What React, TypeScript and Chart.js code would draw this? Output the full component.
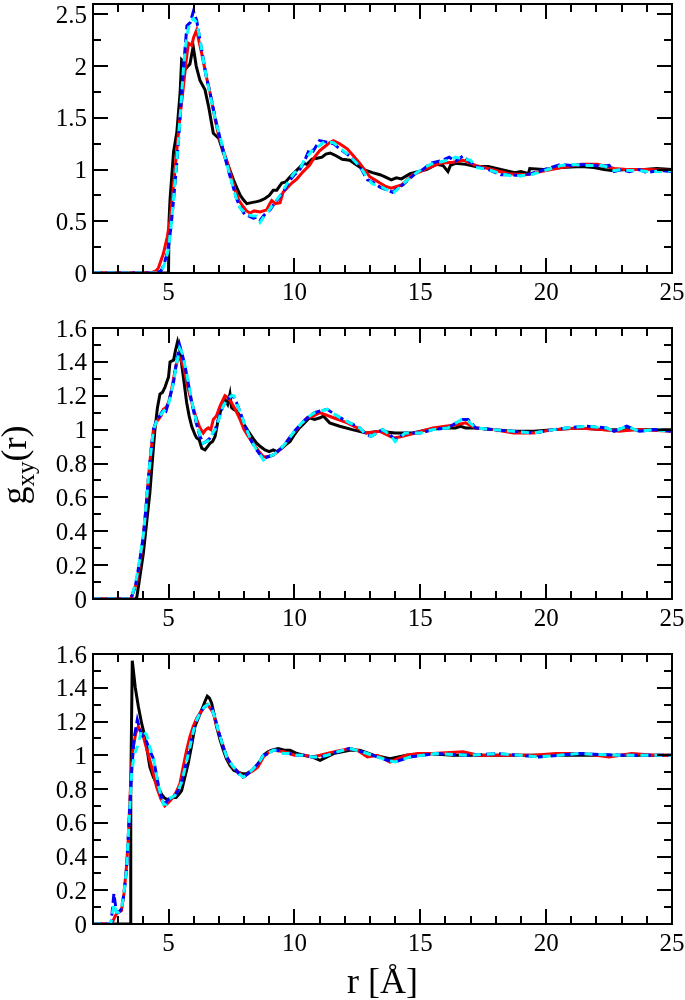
import React, { useEffect, useRef, useState } from "react";
import { Chart, registerables } from "chart.js";

Chart.register(...registerables);

// ---------- axis definitions ----------
const xMajorTicks = [5, 10, 15, 20, 25];
const xMinorTicks = [3, 4, 6, 7, 8, 9, 11, 12, 13, 14, 16, 17, 18, 19, 21, 22, 23, 24];
const p1YTicks = [0, 0.5, 1, 1.5, 2, 2.5];
const p1YMinor = [0.25, 0.75, 1.25, 1.75, 2.25];
const p23YTicks = [0, 0.2, 0.4, 0.6, 0.8, 1, 1.2, 1.4, 1.6];
const p23YMinor = [0.1, 0.3, 0.5, 0.7, 0.9, 1.1, 1.3, 1.5];
const xLabel = "r [Å]";

// ---------- panel 1 ----------
const p1BlackR = [2, 4.95, 5.0, 5.02, 5.06, 5.2, 5.33, 5.46, 5.52, 5.56, 5.7, 5.85, 5.98, 6.1, 6.25, 6.45, 6.6, 6.78, 7.0, 7.18, 7.4, 7.58, 7.72, 7.85, 8.0, 8.11, 8.3, 8.5, 8.65, 8.83, 9.0, 9.16, 9.3, 9.5, 9.65, 9.83, 10.0, 10.2, 10.36, 10.5, 10.7, 10.9, 11.1, 11.25, 11.42, 11.6, 11.9, 12.2, 12.5, 12.76, 13.1, 13.4, 13.6, 13.85, 14.05, 14.25, 14.6, 14.9, 15.25, 15.64, 15.9, 16.1, 16.2, 16.4, 16.8, 17.2, 17.7, 18.2, 18.76, 19.0, 19.3, 19.35, 19.9, 20.6, 21.4, 21.9, 22.3, 22.6, 23.2, 23.9, 24.4, 25];
const p1BlackG = [0, 0, 0, 0.5, 0.71, 1.17, 1.36, 1.74, 2.06, 2.05, 1.98, 2.02, 2.19, 2.0, 1.86, 1.77, 1.6, 1.35, 1.3, 1.16, 1.02, 0.9, 0.82, 0.75, 0.7, 0.67, 0.68, 0.69, 0.7, 0.72, 0.75, 0.8, 0.8, 0.87, 0.88, 0.93, 0.97, 1.02, 1.06, 1.05, 1.1, 1.11, 1.12, 1.15, 1.16, 1.14, 1.1, 1.09, 1.04, 1.0, 0.97, 0.95, 0.93, 0.9, 0.92, 0.91, 0.96, 0.98, 1.0, 1.05, 1.04, 0.98, 1.04, 1.06, 1.05, 1.03, 1.03, 1.0, 0.97, 0.98, 0.96, 1.01, 1.0, 1.02, 1.03, 1.02, 1.0, 0.99, 1.0, 1.0, 1.01, 1.0];

const p1RedR = [2, 4.3, 4.5, 4.6, 4.8, 4.95, 5.06, 5.2, 5.33, 5.45, 5.59, 5.7, 5.79, 5.92, 6.0, 6.12, 6.2, 6.32, 6.5, 6.65, 6.8, 6.97, 7.15, 7.31, 7.5, 7.64, 7.8, 7.97, 8.1, 8.24, 8.4, 8.64, 8.9, 9.0, 9.1, 9.25, 9.43, 9.55, 9.7, 9.9, 10.1, 10.35, 10.6, 10.8, 11.0, 11.2, 11.4, 11.55, 11.8, 12.1, 12.35, 12.6, 13.0, 13.4, 13.6, 13.85, 14.25, 14.7, 15.0, 15.25, 15.77, 16.3, 16.7, 17.2, 17.85, 18.5, 19.2, 19.8, 20.6, 21.4, 22.05, 22.7, 23.2, 24.0, 25];
const p1RedG = [0, 0, 0.02, 0.05, 0.19, 0.35, 0.51, 0.85, 1.19, 1.5, 1.8, 2.05, 2.22, 2.2, 2.28, 2.35, 2.25, 2.12, 1.9, 1.74, 1.55, 1.35, 1.2, 1.09, 0.93, 0.8, 0.7, 0.64, 0.6, 0.58, 0.6, 0.59, 0.61, 0.66, 0.7, 0.67, 0.68, 0.78, 0.82, 0.87, 0.91, 0.98, 1.04, 1.12, 1.18, 1.22, 1.26, 1.28, 1.25, 1.2, 1.13, 1.06, 0.93, 0.87, 0.84, 0.82, 0.85, 0.95, 0.98, 1.01, 1.06, 1.07, 1.09, 1.04, 1.0, 0.96, 0.95, 0.98, 1.02, 1.05, 1.05, 1.01, 1.0, 1.0, 0.99];

const p1BlueR = [2, 4.5, 4.7, 4.8, 4.9, 5.0, 5.1, 5.2, 5.3, 5.4, 5.5, 5.6, 5.73, 5.86, 5.99, 6.12, 6.25, 6.38, 6.5, 6.65, 6.9, 7.05, 7.24, 7.4, 7.57, 7.7, 7.84, 8.04, 8.2, 8.37, 8.5, 8.64, 8.8, 9.03, 9.2, 9.43, 9.6, 9.83, 10.0, 10.2, 10.4, 10.6, 10.75, 11.0, 11.2, 11.55, 11.8, 12.2, 12.6, 12.9, 13.1, 13.4, 13.7, 13.9, 14.1, 14.3, 14.8, 15.1, 15.4, 15.9, 16.15, 16.4, 16.7, 17.0, 17.2, 17.7, 18.2, 18.6, 19.0, 19.4, 19.8, 20.2, 20.6, 21.0, 21.6, 22.2, 22.5, 22.7, 23.0, 23.3, 23.7, 24.0, 24.5, 25];
const p1BlueG = [0, 0, 0.02, 0.07, 0.15, 0.26, 0.45, 0.71, 0.98, 1.29, 1.65, 2.0, 2.39, 2.42, 2.53, 2.44, 2.25, 2.07, 1.9, 1.74, 1.45, 1.3, 1.12, 0.97, 0.83, 0.72, 0.64, 0.56, 0.55, 0.53, 0.54, 0.51, 0.56, 0.61, 0.67, 0.74, 0.8, 0.9, 0.95, 0.99, 1.08, 1.2, 1.18, 1.28, 1.27, 1.25, 1.2, 1.13, 1.03, 0.9, 0.88, 0.83, 0.8, 0.78, 0.82, 0.85, 0.96, 1.0, 1.06, 1.09, 1.12, 1.08, 1.13, 1.07, 1.03, 1.0, 0.95, 0.95, 0.94, 0.96, 0.99, 1.02, 1.05, 1.04, 1.05, 1.03, 1.04, 0.98, 1.0, 0.98, 1.0, 0.97, 0.99, 0.98];

const p1CyanR = [2, 4.5, 4.7, 4.8, 4.9, 5.0, 5.1, 5.2, 5.3, 5.4, 5.5, 5.6, 5.73, 5.86, 5.99, 6.12, 6.25, 6.38, 6.5, 6.65, 6.9, 7.05, 7.24, 7.4, 7.57, 7.7, 7.84, 8.04, 8.2, 8.37, 8.5, 8.64, 8.8, 9.03, 9.2, 9.43, 9.6, 9.83, 10.0, 10.2, 10.4, 10.6, 10.75, 11.0, 11.2, 11.55, 11.8, 12.2, 12.6, 12.9, 13.1, 13.4, 13.7, 13.9, 14.1, 14.3, 14.8, 15.1, 15.4, 15.9, 16.15, 16.4, 16.7, 17.0, 17.2, 17.7, 18.2, 18.6, 19.0, 19.4, 19.8, 20.2, 20.6, 21.0, 21.6, 22.2, 22.5, 22.7, 23.0, 23.3, 23.7, 24.0, 24.5, 25];
const p1CyanG = [0, 0, 0.02, 0.06, 0.13, 0.24, 0.45, 0.72, 1.0, 1.3, 1.65, 2.0, 2.3, 2.43, 2.46, 2.42, 2.26, 2.06, 1.9, 1.72, 1.44, 1.32, 1.12, 0.98, 0.82, 0.72, 0.63, 0.58, 0.56, 0.55, 0.55, 0.49, 0.55, 0.62, 0.68, 0.75, 0.82, 0.91, 0.97, 0.99, 1.1, 1.15, 1.2, 1.23, 1.27, 1.26, 1.21, 1.13, 1.03, 0.92, 0.86, 0.84, 0.8, 0.77, 0.81, 0.86, 0.96, 1.01, 1.05, 1.08, 1.09, 1.12, 1.1, 1.09, 1.02, 1.0, 0.96, 0.94, 0.94, 0.95, 0.98, 1.01, 1.04, 1.05, 1.04, 1.04, 1.02, 0.99, 1.0, 0.99, 0.99, 0.98, 0.98, 0.99];

// ---------- panel 2 ----------
const p2BlackR = [2, 3.7, 3.74, 3.85, 4.0, 4.13, 4.26, 4.36, 4.46, 4.56, 4.66, 4.76, 4.86, 4.95, 5.0, 5.06, 5.2, 5.28, 5.36, 5.45, 5.5, 5.6, 5.72, 5.82, 5.92, 6.05, 6.12, 6.22, 6.32, 6.45, 6.55, 6.65, 6.75, 6.85, 6.95, 7.05, 7.15, 7.24, 7.35, 7.44, 7.5, 7.58, 7.7, 7.84, 8.0, 8.17, 8.35, 8.5, 8.65, 8.83, 9.0, 9.16, 9.3, 9.5, 9.65, 9.83, 10.0, 10.2, 10.4, 10.6, 10.8, 11.02, 11.15, 11.4, 11.8, 12.3, 12.85, 13.4, 14.0, 14.7, 15.3, 15.97, 16.4, 16.6, 16.8, 17.2, 17.9, 18.7, 19.5, 20.3, 21.3, 22.4, 23.4, 24.2, 25];
const p2BlackG = [0, 0, 0.01, 0.12, 0.27, 0.45, 0.63, 0.82, 1.0, 1.13, 1.21, 1.22, 1.25, 1.29, 1.31, 1.4, 1.41, 1.47, 1.52, 1.47, 1.41, 1.3, 1.16, 1.08, 1.02, 0.97, 0.95, 0.94, 0.89, 0.88, 0.9, 0.92, 0.93, 0.96, 1.04, 1.1, 1.15, 1.18, 1.15, 1.21, 1.13, 1.12, 1.11, 1.08, 1.03, 0.99, 0.95, 0.92, 0.9, 0.88, 0.87, 0.88, 0.87, 0.89, 0.91, 0.93, 0.97, 1.01, 1.04, 1.07, 1.06, 1.07, 1.08, 1.04, 1.02, 1.0, 0.98, 0.99, 0.98, 0.98, 1.0, 1.01, 1.01, 1.02, 1.01, 1.01, 1.0, 0.99, 0.99, 1.0, 1.01, 1.0, 1.0, 1.0, 1.0];

const p2RedR = [2, 3.5, 3.55, 3.74, 3.87, 4.0, 4.1, 4.2, 4.3, 4.4, 4.5, 4.6, 4.7, 4.8, 4.9, 5.0, 5.1, 5.2, 5.3, 5.4, 5.5, 5.6, 5.72, 5.85, 6.0, 6.12, 6.25, 6.38, 6.48, 6.58, 6.68, 6.78, 6.9, 7.05, 7.24, 7.35, 7.5, 7.65, 7.84, 8.0, 8.17, 8.35, 8.5, 8.65, 8.77, 8.95, 9.16, 9.35, 9.56, 9.75, 9.96, 10.2, 10.5, 10.75, 11.0, 11.2, 11.55, 12.1, 12.5, 12.85, 13.4, 13.95, 14.3, 14.8, 15.5, 16.0, 16.5, 16.8, 17.2, 17.9, 18.7, 19.5, 20.3, 21.3, 22.2, 22.9, 23.6, 25];
const p2RedG = [0, 0, 0.02, 0.1, 0.22, 0.37, 0.53, 0.71, 0.87, 1.0, 1.04, 1.06, 1.08, 1.12, 1.13, 1.16, 1.22, 1.3, 1.38, 1.43, 1.41, 1.37, 1.28, 1.2, 1.12, 1.06, 1.01, 0.98, 1.0, 1.01, 1.0, 1.06, 1.08, 1.14, 1.2, 1.19, 1.16, 1.12, 1.06, 1.0, 0.96, 0.92, 0.89, 0.86, 0.84, 0.84, 0.85, 0.87, 0.9, 0.94, 0.98, 1.02, 1.07, 1.08, 1.1, 1.09, 1.07, 1.04, 1.01, 0.98, 0.99, 0.95, 0.96, 0.98, 1.01, 1.02, 1.03, 1.04, 1.01, 1.0, 0.98, 0.98, 1.0, 1.01, 1.0, 0.99, 1.0, 0.99];

const p2BlueR = [2, 3.45, 3.55, 3.7, 3.85, 4.0, 4.1, 4.2, 4.3, 4.4, 4.53, 4.65, 4.8, 4.9, 5.0, 5.1, 5.2, 5.3, 5.44, 5.55, 5.65, 5.8, 5.95, 6.1, 6.25, 6.38, 6.5, 6.65, 6.75, 6.85, 7.0, 7.17, 7.35, 7.5, 7.6, 7.7, 7.9, 8.1, 8.3, 8.5, 8.65, 8.77, 8.95, 9.16, 9.4, 9.6, 9.8, 10.0, 10.3, 10.6, 10.8, 11.02, 11.3, 11.7, 12.2, 12.6, 12.85, 13.05, 13.5, 13.8, 14.0, 14.4, 15.0, 15.5, 16.1, 16.65, 16.9, 17.2, 17.9, 18.7, 19.5, 20.3, 20.8, 21.6, 22.4, 22.7, 23.2, 23.7, 24.3, 25];
const p2BlueG = [0, 0, 0.02, 0.09, 0.22, 0.37, 0.53, 0.71, 0.87, 1.0, 1.06, 1.08, 1.12, 1.11, 1.16, 1.22, 1.28, 1.38, 1.5, 1.44, 1.38, 1.26, 1.14, 1.04, 0.96, 0.92, 0.93, 0.95, 0.97, 1.0, 1.07, 1.14, 1.18, 1.2, 1.19, 1.16, 1.08, 1.0, 0.93, 0.88, 0.85, 0.83, 0.84, 0.85, 0.88, 0.91, 0.95, 0.99, 1.04, 1.08, 1.1, 1.11, 1.12, 1.08, 1.04, 1.01, 0.97, 0.96, 1.0, 0.97, 0.94, 0.98, 0.98, 1.0, 1.01, 1.06, 1.06, 1.01, 1.0, 0.99, 0.98, 1.0, 1.01, 1.02, 1.01, 0.99, 1.02, 0.99, 1.0, 0.99];

const p2CyanR = [2, 3.45, 3.55, 3.7, 3.85, 4.0, 4.1, 4.2, 4.3, 4.4, 4.53, 4.65, 4.8, 4.9, 5.0, 5.1, 5.2, 5.3, 5.44, 5.55, 5.65, 5.8, 5.95, 6.1, 6.25, 6.38, 6.5, 6.65, 6.75, 6.85, 7.0, 7.17, 7.35, 7.5, 7.6, 7.7, 7.9, 8.1, 8.3, 8.5, 8.65, 8.77, 8.95, 9.16, 9.4, 9.6, 9.8, 10.0, 10.3, 10.6, 10.8, 11.02, 11.3, 11.7, 12.2, 12.6, 12.85, 13.05, 13.5, 13.8, 14.0, 14.4, 15.0, 15.5, 16.1, 16.65, 16.9, 17.2, 17.9, 18.7, 19.5, 20.3, 20.8, 21.6, 22.4, 22.7, 23.2, 23.7, 24.3, 25];
const p2CyanG = [0, 0, 0.02, 0.1, 0.23, 0.38, 0.54, 0.71, 0.87, 1.0, 1.05, 1.08, 1.11, 1.12, 1.15, 1.21, 1.28, 1.37, 1.48, 1.45, 1.38, 1.27, 1.15, 1.05, 0.97, 0.92, 0.93, 0.94, 0.98, 1.0, 1.06, 1.14, 1.18, 1.2, 1.2, 1.16, 1.08, 1.0, 0.93, 0.88, 0.85, 0.82, 0.84, 0.85, 0.88, 0.91, 0.95, 0.99, 1.04, 1.08, 1.1, 1.11, 1.12, 1.08, 1.04, 1.01, 0.97, 0.96, 1.0, 0.97, 0.93, 0.98, 0.98, 1.0, 1.01, 1.06, 1.05, 1.01, 1.0, 0.99, 0.98, 1.0, 1.01, 1.02, 1.01, 0.99, 1.02, 0.99, 1.0, 0.99];

// ---------- panel 3 ----------
const p3BlackR = [2, 3.47, 3.5, 3.56, 3.68, 3.8, 3.93, 4.06, 4.16, 4.26, 4.4, 4.53, 4.62, 4.72, 4.82, 4.92, 5.05, 5.18, 5.3, 5.42, 5.52, 5.65, 5.78, 5.92, 6.05, 6.18, 6.32, 6.45, 6.54, 6.62, 6.71, 6.8, 6.91, 7.05, 7.18, 7.3, 7.44, 7.6, 7.77, 7.95, 8.1, 8.3, 8.5, 8.65, 8.77, 8.95, 9.1, 9.36, 9.6, 9.83, 10.1, 10.36, 10.7, 11.02, 11.3, 11.55, 12.2, 12.6, 13.15, 13.8, 14.45, 15.25, 16.3, 17.5, 18.5, 20.0, 21.5, 23.0, 24.5, 25];
const p3BlackG = [0, 0, 0.8, 1.56, 1.4, 1.29, 1.19, 1.11, 1.02, 0.93, 0.87, 0.83, 0.8, 0.77, 0.75, 0.74, 0.74, 0.75, 0.75, 0.77, 0.79, 0.87, 0.95, 1.06, 1.17, 1.22, 1.27, 1.32, 1.35, 1.34, 1.31, 1.25, 1.17, 1.09, 1.03, 0.98, 0.94, 0.91, 0.9, 0.89, 0.89, 0.91, 0.93, 0.97, 1.0, 1.02, 1.03, 1.04, 1.03, 1.03, 1.01, 1.0, 0.99, 0.97, 0.99, 1.01, 1.03, 1.03, 1.0, 0.98, 1.0, 1.01, 1.0, 1.0, 1.0, 1.0, 1.0, 1.0, 1.0, 1.0];

const p3RedR = [2, 2.75, 2.8, 2.93, 3.13, 3.23, 3.33, 3.4, 3.47, 3.53, 3.6, 3.7, 3.8, 3.9, 4.0, 4.13, 4.26, 4.4, 4.53, 4.7, 4.85, 5.0, 5.18, 5.3, 5.45, 5.58, 5.72, 5.85, 5.98, 6.12, 6.25, 6.4, 6.54, 6.65, 6.78, 6.9, 7.05, 7.2, 7.37, 7.55, 7.7, 7.85, 7.97, 8.15, 8.37, 8.55, 8.77, 9.0, 9.2, 9.6, 10.0, 10.4, 10.7, 11.02, 11.55, 12.2, 12.5, 12.9, 13.3, 13.8, 14.45, 14.9, 15.5, 16.7, 17.3, 18.2, 19.5, 20.4, 21.5, 22.5, 23.4, 24.3, 25];
const p3RedG = [0, 0, 0.02, 0.06, 0.08, 0.18, 0.34, 0.5, 0.75, 0.93, 1.05, 1.13, 1.17, 1.14, 1.11, 1.04, 0.97, 0.89, 0.81, 0.74, 0.7, 0.72, 0.75, 0.78, 0.83, 0.93, 1.03, 1.11, 1.17, 1.22, 1.25, 1.28, 1.3, 1.28, 1.25, 1.18, 1.11, 1.04, 0.97, 0.93, 0.91, 0.89, 0.87, 0.89, 0.91, 0.93, 0.99, 1.02, 1.03, 1.02, 1.0, 1.0, 0.99, 1.0, 1.02, 1.04, 1.03, 0.99, 1.0, 0.96, 1.0, 1.01, 1.01, 1.02, 1.0, 1.0, 1.0, 1.01, 1.01, 0.99, 1.01, 1.0, 1.0];

const p3BlueR = [2, 2.7, 2.73, 2.83, 2.93, 3.03, 3.13, 3.23, 3.33, 3.43, 3.53, 3.63, 3.76, 3.85, 3.93, 4.03, 4.13, 4.25, 4.4, 4.5, 4.6, 4.7, 4.8, 4.9, 5.0, 5.12, 5.25, 5.38, 5.52, 5.68, 5.85, 5.98, 6.12, 6.28, 6.45, 6.58, 6.71, 6.85, 6.97, 7.15, 7.31, 7.48, 7.64, 7.8, 7.97, 8.15, 8.37, 8.55, 8.77, 8.95, 9.16, 9.36, 9.56, 9.8, 10.1, 10.4, 10.7, 11.02, 11.3, 11.7, 12.2, 12.7, 13.3, 13.7, 14.0, 14.6, 15.6, 16.9, 18.1, 19.7, 21.3, 22.9, 24.0, 25];
const p3BlueG = [0, 0, 0.02, 0.18, 0.07, 0.07, 0.09, 0.18, 0.32, 0.6, 0.89, 1.1, 1.21, 1.16, 1.12, 1.1, 1.08, 1.03, 0.98, 0.9, 0.82, 0.76, 0.72, 0.72, 0.74, 0.75, 0.76, 0.79, 0.84, 0.94, 1.05, 1.14, 1.21, 1.26, 1.29, 1.3, 1.28, 1.22, 1.15, 1.06, 0.99, 0.95, 0.92, 0.89, 0.87, 0.89, 0.92, 0.95, 1.0, 1.01, 1.03, 1.03, 1.01, 1.01, 1.0, 1.0, 0.99, 0.99, 1.0, 1.02, 1.04, 1.02, 0.99, 0.97, 0.96, 0.99, 1.01, 1.0, 1.01, 0.99, 1.01, 1.0, 1.0, 1.0];

const p3CyanR = [2, 2.7, 2.73, 2.83, 2.93, 3.03, 3.13, 3.23, 3.33, 3.43, 3.53, 3.63, 3.76, 3.85, 3.93, 4.03, 4.13, 4.25, 4.4, 4.5, 4.6, 4.7, 4.8, 4.9, 5.0, 5.12, 5.25, 5.38, 5.52, 5.68, 5.85, 5.98, 6.12, 6.28, 6.45, 6.58, 6.71, 6.85, 6.97, 7.15, 7.31, 7.48, 7.64, 7.8, 7.97, 8.15, 8.37, 8.55, 8.77, 8.95, 9.16, 9.36, 9.56, 9.8, 10.1, 10.4, 10.7, 11.02, 11.3, 11.7, 12.2, 12.7, 13.3, 13.7, 14.0, 14.6, 15.6, 16.9, 18.1, 19.7, 21.3, 22.9, 24.0, 25];
const p3CyanG = [0, 0, 0.02, 0.12, 0.07, 0.07, 0.09, 0.18, 0.32, 0.6, 0.88, 1.0, 1.05, 1.1, 1.15, 1.14, 1.12, 1.05, 0.98, 0.9, 0.82, 0.76, 0.71, 0.71, 0.74, 0.75, 0.76, 0.79, 0.84, 0.94, 1.05, 1.14, 1.21, 1.26, 1.29, 1.3, 1.28, 1.22, 1.15, 1.06, 0.99, 0.95, 0.92, 0.89, 0.87, 0.89, 0.92, 0.95, 1.0, 1.01, 1.03, 1.03, 1.01, 1.01, 1.0, 1.0, 0.99, 0.99, 1.0, 1.02, 1.04, 1.02, 0.99, 0.97, 0.96, 0.99, 1.01, 1.0, 1.01, 0.99, 1.01, 1.0, 1.0, 1.0];

// ---------- helpers ----------
const FONT_CSS = "'Liberation Serif', 'Times New Roman', Times, serif";
const TICK_PX = 25;
const toPts = (r: number[], g: number[]) => r.map((v, i) => ({ x: v, y: g[i] }));
const fmt = (v: number) => String(+Number(v).toFixed(2));

type Series = { r: number[]; g: number[] };
type PanelProps = {
  top: number;
  height: number;
  padTop: number;
  xAxisH: number;
  yMax: number;
  yTicks: number[];
  yMinor: number[];
  black: Series;
  red: Series;
  blue: Series;
  cyan: Series;
};
type Lbl = { t: string; x: number; y: number; kind: "x" | "y" };

// Frame and inward ticks on all four sides, positioned by the chart's own scales
const framePlugin = (yMinor: number[]) => ({
  id: "frameTicks",
  afterDatasetsDraw(chart: any) {
    const { ctx, chartArea, scales } = chart;
    const { left, right, top, bottom } = chartArea;
    const xs = scales.x;
    const ys = scales.y;
    ctx.save();
    ctx.strokeStyle = "#000";
    ctx.lineWidth = 2;
    ctx.lineCap = "butt";
    ctx.setLineDash([]);
    ctx.beginPath();
    const MAJ = 15;
    const MIN = 8;
    xs.ticks.forEach((t: any) => {
      const px = Math.round(xs.getPixelForValue(t.value));
      ctx.moveTo(px, bottom);
      ctx.lineTo(px, bottom - MAJ);
      ctx.moveTo(px, top);
      ctx.lineTo(px, top + MAJ);
    });
    xMinorTicks.forEach((v) => {
      const px = Math.round(xs.getPixelForValue(v));
      ctx.moveTo(px, bottom);
      ctx.lineTo(px, bottom - MIN);
      ctx.moveTo(px, top);
      ctx.lineTo(px, top + MIN);
    });
    ys.ticks.forEach((t: any) => {
      const py = Math.round(ys.getPixelForValue(t.value));
      ctx.moveTo(left, py);
      ctx.lineTo(left + MAJ, py);
      ctx.moveTo(right, py);
      ctx.lineTo(right - MAJ, py);
    });
    yMinor.forEach((v: number) => {
      const py = Math.round(ys.getPixelForValue(v));
      ctx.moveTo(left, py);
      ctx.lineTo(left + MIN, py);
      ctx.moveTo(right, py);
      ctx.lineTo(right - MIN, py);
    });
    ctx.stroke();
    ctx.strokeRect(left, top, right - left, bottom - top);
    ctx.restore();
  },
});

function Panel(p: PanelProps) {
  const ref = useRef<HTMLCanvasElement | null>(null);
  const [labels, setLabels] = useState<Lbl[]>([]);
  useEffect(() => {
    if (!ref.current) return;
    const chart = new Chart(ref.current, {
      type: "line",
      data: {
        datasets: [
          { data: toPts(p.black.r, p.black.g), borderColor: "#000000", borderWidth: 3, order: 4 },
          { data: toPts(p.red.r, p.red.g), borderColor: "#ff0000", borderWidth: 3, order: 3 },
          {
            data: toPts(p.blue.r, p.blue.g),
            borderColor: "#0000ff",
            borderWidth: 3,
            borderDash: [9, 4],
            order: 2,
          },
          {
            data: toPts(p.cyan.r, p.cyan.g),
            borderColor: "#00ffff",
            borderWidth: 3,
            borderDash: [8, 6],
            order: 1,
          },
        ] as any,
      },
      options: {
        responsive: false,
        animation: false,
        events: [],
        parsing: false as any,
        normalized: true,
        elements: { point: { radius: 0 }, line: { tension: 0, fill: false } },
        layout: { padding: { top: p.padTop, right: 13, left: 0, bottom: 0 }, autoPadding: false } as any,
        plugins: { legend: { display: false }, tooltip: { enabled: false }, title: { display: false } },
        scales: {
          x: {
            type: "linear",
            min: 2,
            max: 25,
            grid: { display: false, drawTicks: false },
            border: { display: false },
            ticks: { display: false },
            afterBuildTicks: (s: any) => {
              s.ticks = xMajorTicks.map((v) => ({ value: v }));
            },
            afterFit: (s: any) => {
              s.height = p.xAxisH;
              s.paddingLeft = 0;
              s.paddingRight = 0;
              s.paddingTop = 0;
              s.paddingBottom = 0;
            },
          } as any,
          y: {
            type: "linear",
            min: 0,
            max: p.yMax,
            grid: { display: false, drawTicks: false },
            border: { display: false },
            ticks: { display: false },
            afterBuildTicks: (s: any) => {
              s.ticks = p.yTicks.map((v) => ({ value: v }));
            },
            afterFit: (s: any) => {
              s.width = 93;
              s.paddingLeft = 0;
              s.paddingRight = 0;
              s.paddingTop = 0;
              s.paddingBottom = 0;
            },
          } as any,
        },
      },
      plugins: [framePlugin(p.yMinor)],
    });
    // tick labels as real text, placed with the chart's own scales
    const xs: any = chart.scales.x;
    const ys: any = chart.scales.y;
    const bottom = chart.chartArea.bottom;
    const left = chart.chartArea.left;
    const out: Lbl[] = [];
    xs.ticks.forEach((t: any) =>
      out.push({ t: fmt(t.value), x: xs.getPixelForValue(t.value), y: bottom, kind: "x" })
    );
    ys.ticks.forEach((t: any) =>
      out.push({ t: fmt(t.value), x: left, y: ys.getPixelForValue(t.value), kind: "y" })
    );
    setLabels(out);
    return () => chart.destroy();
  }, []);
  return (
    <div style={{ position: "absolute", left: 0, top: p.top, width: 685, height: p.height }}>
      <canvas
        ref={ref}
        width={685}
        height={p.height}
        style={{ position: "absolute", left: 0, top: 0, width: 685, height: p.height, display: "block" }}
      />
      {labels.map((l, i) =>
        l.kind === "x" ? (
          <div
            key={i}
            style={{
              position: "absolute",
              left: l.x - 40,
              width: 80,
              top: l.y + 6,
              textAlign: "center",
              fontSize: TICK_PX,
              lineHeight: `${TICK_PX}px`,
              whiteSpace: "nowrap",
            }}
          >
            {l.t}
          </div>
        ) : (
          <div
            key={i}
            style={{
              position: "absolute",
              left: l.x - 6 - 80,
              width: 80,
              top: l.y - 12.5,
              textAlign: "right",
              fontSize: TICK_PX,
              lineHeight: `${TICK_PX}px`,
              whiteSpace: "nowrap",
            }}
          >
            {l.t}
          </div>
        )
      )}
    </div>
  );
}

export default function App() {
  return (
    <div
      style={{
        position: "absolute",
        left: 0,
        top: 0,
        width: 685,
        height: 1000,
        background: "#fff",
        overflow: "hidden",
        fontFamily: FONT_CSS,
        color: "#000",
      }}
    >
      <Panel
        top={0}
        height={300}
        padTop={4}
        xAxisH={27}
        yMax={2.6}
        yTicks={p1YTicks}
        yMinor={p1YMinor}
        black={{ r: p1BlackR, g: p1BlackG }}
        red={{ r: p1RedR, g: p1RedG }}
        blue={{ r: p1BlueR, g: p1BlueG }}
        cyan={{ r: p1CyanR, g: p1CyanG }}
      />
      <Panel
        top={300}
        height={325}
        padTop={28}
        xAxisH={26}
        yMax={1.6}
        yTicks={p23YTicks}
        yMinor={p23YMinor}
        black={{ r: p2BlackR, g: p2BlackG }}
        red={{ r: p2RedR, g: p2RedG }}
        blue={{ r: p2BlueR, g: p2BlueG }}
        cyan={{ r: p2CyanR, g: p2CyanG }}
      />
      <Panel
        top={625}
        height={375}
        padTop={29}
        xAxisH={76}
        yMax={1.6}
        yTicks={p23YTicks}
        yMinor={p23YMinor}
        black={{ r: p3BlackR, g: p3BlackG }}
        red={{ r: p3RedR, g: p3RedG }}
        blue={{ r: p3BlueR, g: p3BlueG }}
        cyan={{ r: p3CyanR, g: p3CyanG }}
      />
      <div
        style={{
          position: "absolute",
          left: 93,
          width: 579,
          top: 963,
          textAlign: "center",
          fontSize: 36,
          lineHeight: "36px",
          whiteSpace: "nowrap",
        }}
      >
        {xLabel}
      </div>
      <div
        style={{
          position: "absolute",
          left: 16,
          top: 465,
          transform: "translate(-50%, -50%) rotate(-90deg)",
          fontSize: 36,
          lineHeight: "36px",
          whiteSpace: "nowrap",
        }}
      >
        g
        <span style={{ fontSize: 25, position: "relative", top: 8 }}>xy</span>
        (r)
      </div>
    </div>
  );
}
